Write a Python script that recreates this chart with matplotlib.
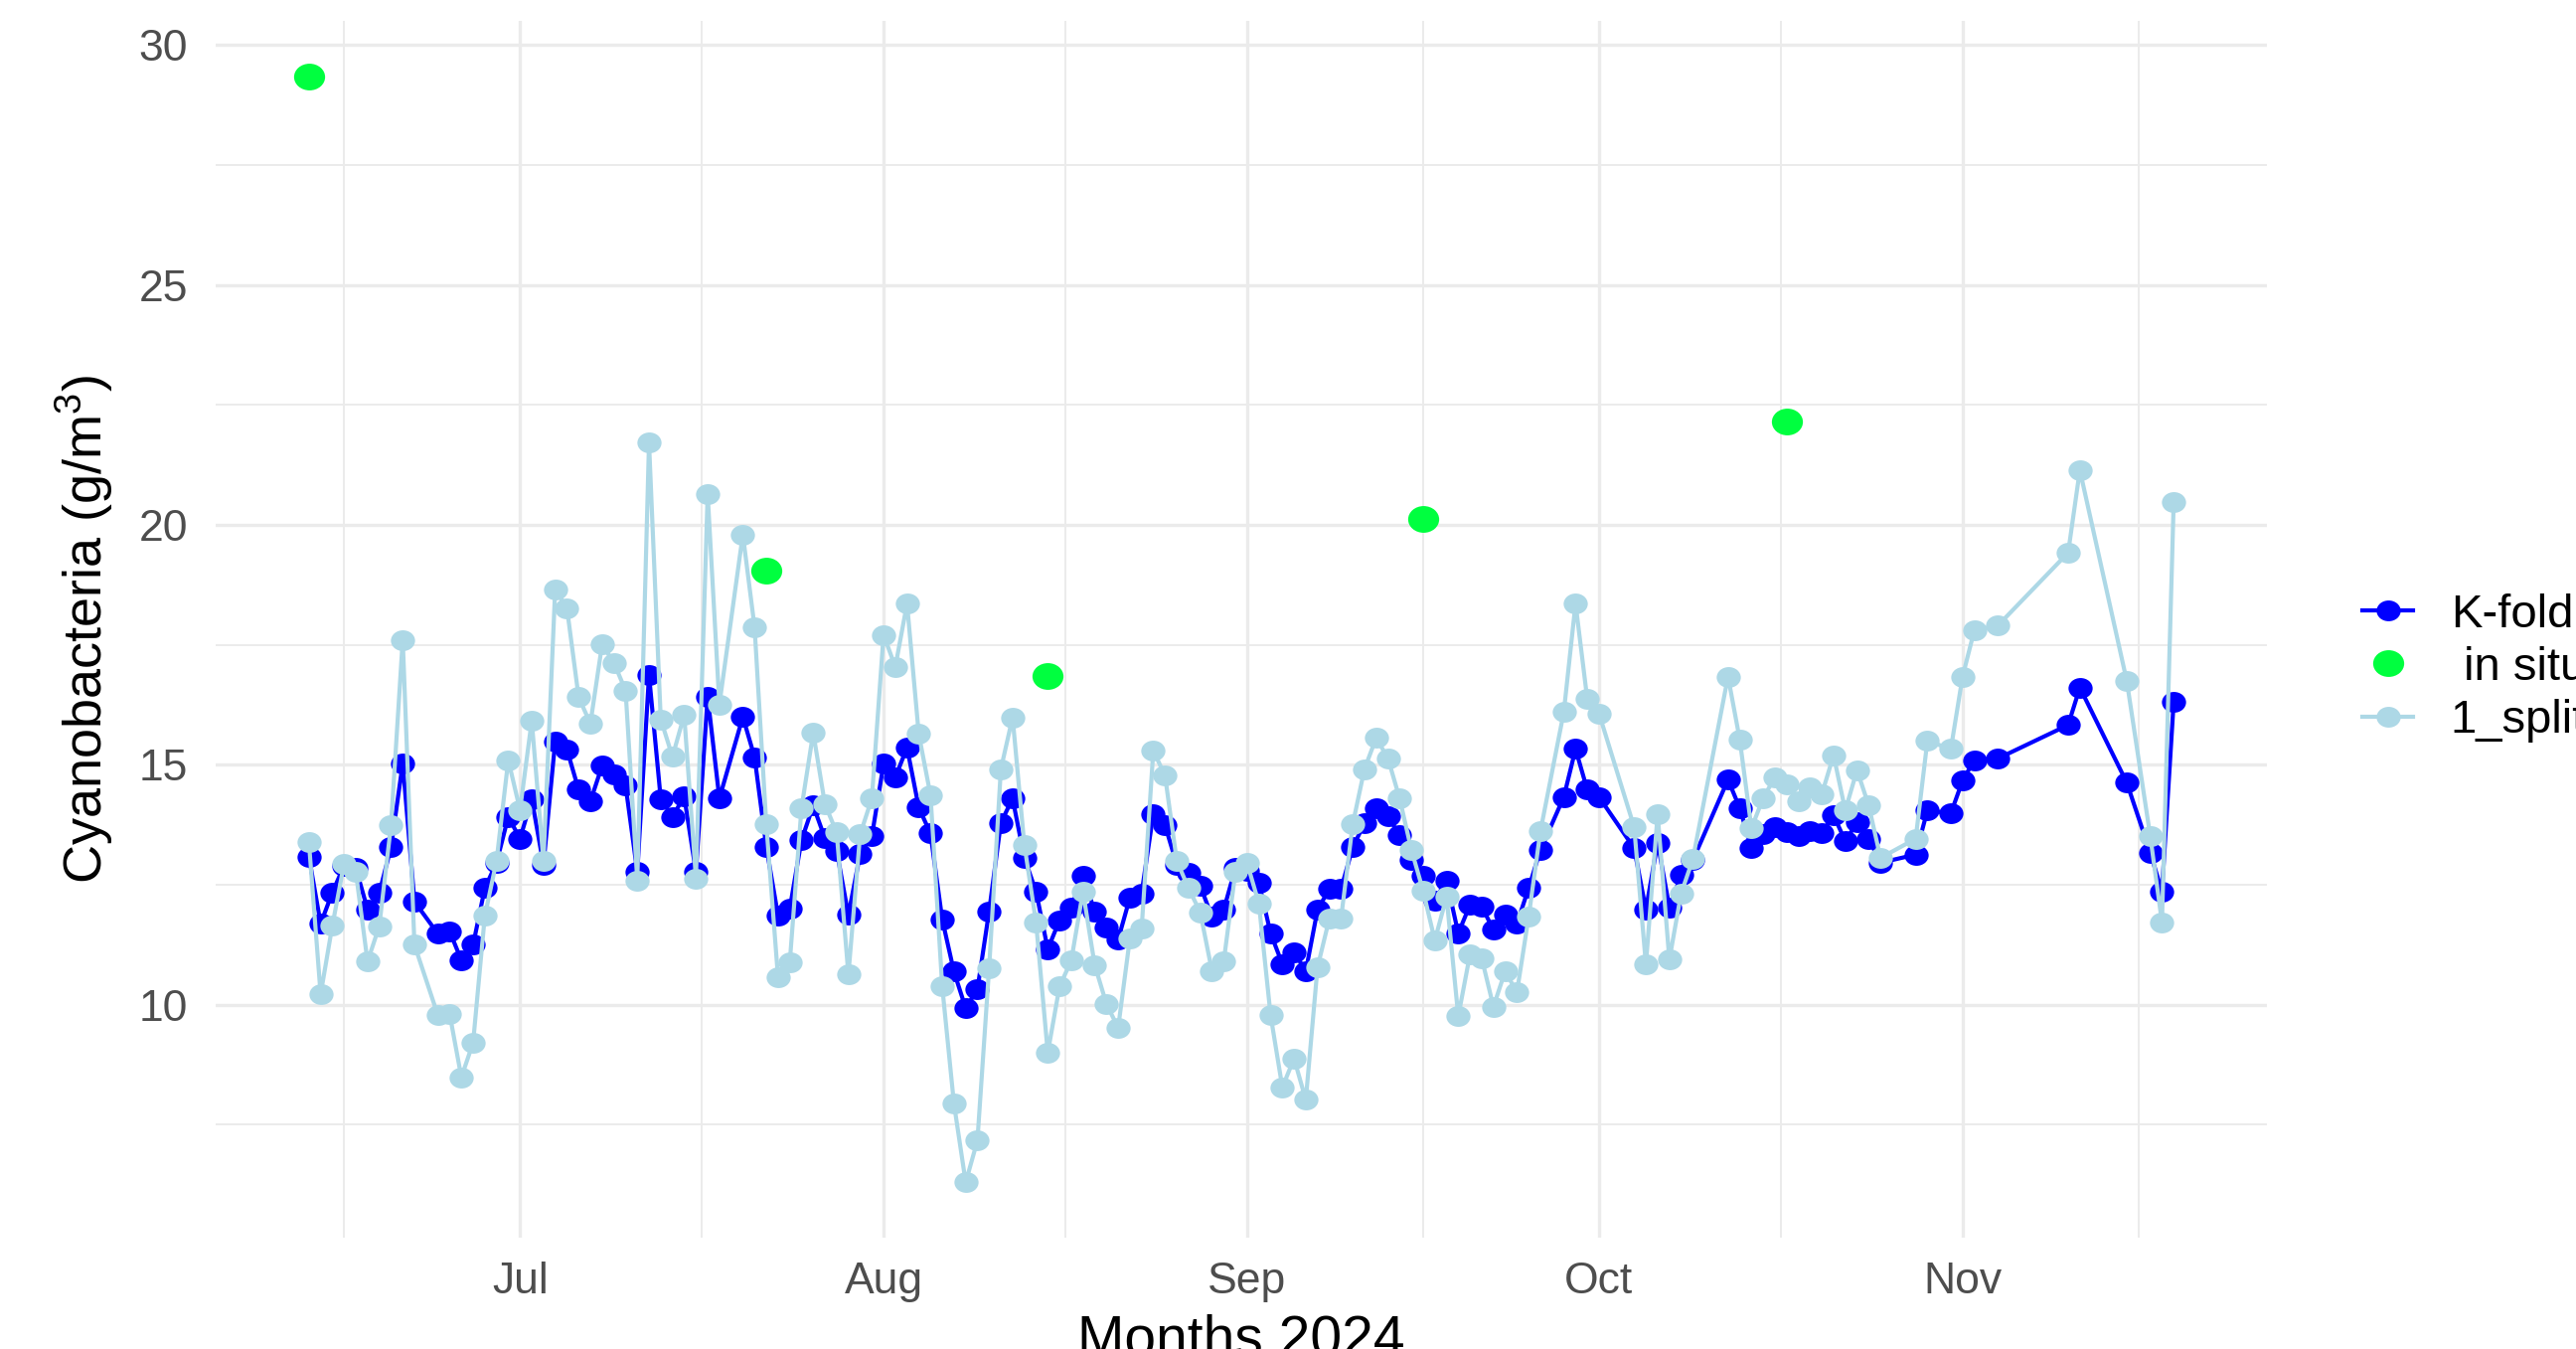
import matplotlib
matplotlib.use("Agg")
import matplotlib.pyplot as plt
import matplotlib.dates as mdates
from matplotlib.path import Path
from matplotlib.lines import Line2D
from matplotlib.ticker import FixedLocator
import numpy as np
import pandas as pd

# ---------------- data ----------------
dates = [
    "2024-06-13", "2024-06-14", "2024-06-15", "2024-06-16", "2024-06-17", "2024-06-18",
    "2024-06-19", "2024-06-20", "2024-06-21", "2024-06-22", "2024-06-24", "2024-06-25",
    "2024-06-26", "2024-06-27", "2024-06-28", "2024-06-29", "2024-06-30",
    "2024-07-01", "2024-07-02", "2024-07-03", "2024-07-04", "2024-07-05", "2024-07-06",
    "2024-07-07", "2024-07-08", "2024-07-09", "2024-07-10", "2024-07-11", "2024-07-12",
    "2024-07-13", "2024-07-14", "2024-07-15", "2024-07-16", "2024-07-17", "2024-07-18",
    "2024-07-20", "2024-07-21", "2024-07-22", "2024-07-23", "2024-07-24", "2024-07-25",
    "2024-07-26", "2024-07-27", "2024-07-28", "2024-07-29", "2024-07-30", "2024-07-31",
    "2024-08-01", "2024-08-02", "2024-08-03", "2024-08-04", "2024-08-05", "2024-08-06",
    "2024-08-07", "2024-08-08", "2024-08-09", "2024-08-10", "2024-08-11", "2024-08-12",
    "2024-08-13", "2024-08-14", "2024-08-15", "2024-08-16", "2024-08-17", "2024-08-18",
    "2024-08-19", "2024-08-20", "2024-08-21", "2024-08-22", "2024-08-23", "2024-08-24",
    "2024-08-25", "2024-08-26", "2024-08-27", "2024-08-28", "2024-08-29", "2024-08-30",
    "2024-08-31",
    "2024-09-01", "2024-09-02", "2024-09-03", "2024-09-04", "2024-09-05", "2024-09-06",
    "2024-09-07", "2024-09-08", "2024-09-09", "2024-09-10", "2024-09-11", "2024-09-12",
    "2024-09-13", "2024-09-14", "2024-09-15", "2024-09-16", "2024-09-17", "2024-09-18",
    "2024-09-19", "2024-09-20", "2024-09-21", "2024-09-22", "2024-09-23", "2024-09-24",
    "2024-09-25", "2024-09-26", "2024-09-28", "2024-09-29", "2024-09-30",
    "2024-10-01", "2024-10-04", "2024-10-05", "2024-10-06", "2024-10-07", "2024-10-08",
    "2024-10-09", "2024-10-12", "2024-10-13", "2024-10-14", "2024-10-15", "2024-10-16",
    "2024-10-17", "2024-10-18", "2024-10-19", "2024-10-20", "2024-10-21", "2024-10-22",
    "2024-10-23", "2024-10-24", "2024-10-25", "2024-10-28", "2024-10-29", "2024-10-31",
    "2024-11-01", "2024-11-02", "2024-11-04", "2024-11-10", "2024-11-11", "2024-11-15",
    "2024-11-17", "2024-11-18", "2024-11-19",
]

kfold = [
    13.09, 11.69, 12.34, 12.90, 12.85, 11.99,
    12.33, 13.28, 15.03, 12.15, 11.48, 11.53,
    10.93, 11.25, 12.43, 12.96, 13.92,
    13.46, 14.29, 12.92, 15.49, 15.32, 14.48,
    14.24, 14.98, 14.80, 14.57, 12.77, 16.87,
    14.29, 13.92, 14.34, 12.77, 16.42, 14.30,
    16.00, 15.16, 13.29, 11.86, 12.00, 13.43,
    14.15, 13.47, 13.21, 11.87, 13.14, 13.51,
    15.02, 14.74, 15.36, 14.11, 13.57, 11.78,
    10.69, 9.93, 10.32, 11.95, 13.79, 14.30,
    13.06, 12.36, 11.16, 11.76, 12.03, 12.68,
    11.95, 11.61, 11.36, 12.23, 12.32, 13.98,
    13.74, 12.92, 12.75, 12.48, 11.83, 11.98,
    12.85,
    12.80, 12.54, 11.49, 10.85, 11.10, 10.70,
    11.98, 12.41, 12.41, 13.28, 13.78, 14.10,
    13.93, 13.53, 13.02, 12.69, 12.18, 12.59,
    11.49, 12.08, 12.05, 11.56, 11.88, 11.69,
    12.43, 13.22, 14.33, 15.33, 14.48,
    14.33, 13.26, 11.98, 13.38, 12.03, 12.70,
    13.01, 14.69, 14.10, 13.26, 13.56, 13.70,
    13.60, 13.51, 13.62, 13.58, 13.95, 13.41,
    13.80, 13.46, 12.96, 13.13, 14.05, 13.99,
    14.67, 15.10, 15.13, 15.83, 16.61, 14.63,
    13.17, 12.36, 16.31,
]

split1 = [
    13.39, 10.22, 11.65, 12.94, 12.77, 10.90,
    11.64, 13.74, 17.60, 11.25, 9.78, 9.81,
    8.49, 9.21, 11.85, 13.00, 15.10,
    14.06, 15.92, 12.99, 18.66, 18.27, 16.41,
    15.86, 17.51, 17.13, 16.55, 12.59, 21.71,
    15.95, 15.17, 16.04, 12.63, 20.64, 16.26,
    19.80, 17.87, 13.76, 10.57, 10.88, 14.10,
    15.67, 14.18, 13.59, 10.63, 13.55, 14.30,
    17.71, 17.04, 18.36, 15.64, 14.37, 10.38,
    7.94, 6.30, 7.17, 10.77, 14.91, 15.99,
    13.34, 11.72, 9.00, 10.38, 10.92, 12.36,
    10.83, 10.02, 9.52, 11.38, 11.58, 15.30,
    14.77, 13.00, 12.43, 11.93, 10.70, 10.90,
    12.77,
    12.95, 12.11, 9.78, 8.28, 8.88, 8.02,
    10.78, 11.79, 11.79, 13.76, 14.91, 15.56,
    15.14, 14.30, 13.23, 12.38, 11.34, 12.25,
    9.76, 11.05, 10.97, 9.96, 10.70, 10.26,
    11.83, 13.61, 16.10, 18.36, 16.37,
    16.07, 13.70, 10.84, 13.97, 10.94, 12.32,
    13.03, 16.84, 15.53, 13.68, 14.31, 14.74,
    14.59, 14.25, 14.54, 14.39, 15.20, 14.05,
    14.89, 14.15, 13.06, 13.46, 15.50, 15.33,
    16.84, 17.80, 17.90, 19.42, 21.14, 16.75,
    13.52, 11.72, 20.47,
]

insitu_dates = ["2024-06-13", "2024-07-22", "2024-08-15", "2024-09-16", "2024-10-17"]
insitu = [29.35, 19.05, 16.85, 20.12, 22.16]

series_labels = ["K-fold", " in situ", "1_split"]
month_ticks = ["2024-07-01", "2024-08-01", "2024-09-01", "2024-10-01", "2024-11-01"]
month_labels = ["Jul", "Aug", "Sep", "Oct", "Nov"]
y_major = [10, 15, 20, 25, 30]
y_minor = [7.5, 12.5, 17.5, 22.5, 27.5]

# ---------------- style ----------------
plt.rcParams["font.family"] = ["Liberation Sans", "DejaVu Sans"]
plt.rcParams["mathtext.fontset"] = "custom"
plt.rcParams["mathtext.rm"] = "Liberation Sans"
plt.rcParams["mathtext.it"] = "Liberation Sans:italic"

C_K = "#0000FF"
C_S = "#ADD8E6"
C_G = "#00FF3F"
GRID = "#EBEBEB"
TICK = "#4D4D4D"

# slightly wide elliptical marker (as in the reference)
circ = Path.unit_circle()
ell = Path(circ.vertices * np.array([1.0, 0.86]), circ.codes)

W, H = 2592, 1357
fig = plt.figure(figsize=(W / 100, H / 100), dpi=100)
ax = fig.add_axes([217 / W, 1 - 1245 / H, (2281 - 217) / W, (1245 - 21) / H])

d = pd.to_datetime(dates)
di = pd.to_datetime(insitu_dates)

ms = 17.5
lw = 3.0
ax.plot(d, kfold, color=C_K, lw=lw, marker=ell, ms=ms, mew=0, zorder=3)
ax.plot(di, insitu, linestyle="none", color=C_G, marker=ell, ms=22.5, mew=0, zorder=4)
ax.plot(d, split1, color=C_S, lw=lw, marker=ell, ms=ms, mew=0, zorder=5)

ax.margins(x=0.05, y=0.05)

# ticks & grid
mt = pd.to_datetime(month_ticks)
ax.xaxis.set_major_locator(FixedLocator(mdates.date2num(mt)))
ax.set_xticklabels(month_labels)
mnum = mdates.date2num(pd.to_datetime(["2024-06-01"] + month_ticks + ["2024-12-01"]))
ax.xaxis.set_minor_locator(FixedLocator((mnum[:-1] + mnum[1:]) / 2))
ax.yaxis.set_major_locator(FixedLocator(y_major))
ax.yaxis.set_minor_locator(FixedLocator(y_minor))

ax.grid(which="major", color=GRID, lw=2.4)
ax.grid(which="minor", color=GRID, lw=1.4)
ax.set_axisbelow(True)
for s in ax.spines.values():
    s.set_visible(False)
ax.tick_params(which="both", length=0)
ax.tick_params(axis="x", which="major", pad=17, labelsize=32, labelcolor=TICK)
ax.tick_params(axis="y", which="major", pad=20, labelsize=32, labelcolor=TICK)

ax.set_xlabel("Months 2024", fontsize=41, color="black")
ax.xaxis.label.set_va("baseline")
ax.xaxis.set_label_coords(0.5, -(1363 - 1245) / (1245 - 21))
ax.set_ylabel(r"Cyanobacteria (g/m$^{3}$)", fontsize=39, color="black")
ax.yaxis.label.set_va("center")
ax.yaxis.set_label_coords((85 - 217) / (2281 - 217), 0.5)

handles = [
    Line2D([], [], color=C_K, lw=lw, marker=ell, ms=ms, mew=0),
    Line2D([], [], color=C_G, lw=0, marker=ell, ms=22.5, mew=0),
    Line2D([], [], color=C_S, lw=lw, marker=ell, ms=ms, mew=0),
]
fig.legend(handles, series_labels, loc="center left",
           bbox_to_anchor=(2377 / W, 1 - 672 / H), frameon=False, fontsize=34,
           handlelength=1.08, handletextpad=0.8, labelspacing=0.2,
           borderpad=0, borderaxespad=0)

fig.savefig("out.png", dpi=100, facecolor="white")
